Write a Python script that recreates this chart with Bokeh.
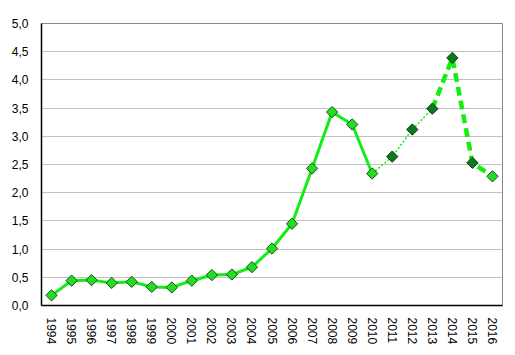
import math
from bokeh.plotting import figure
from bokeh.models import Label, CustomJSTickFormatter, FixedTicker
from bokeh.embed import file_html
from bokeh.resources import INLINE

years = [str(y) for y in range(1994, 2017)]
values = [0.18, 0.44, 0.45, 0.40, 0.42, 0.33, 0.32, 0.44, 0.54, 0.55, 0.68, 1.01,
          1.45, 2.43, 3.43, 3.21, 2.34, 2.64, 3.12, 3.49, 4.39, 2.53, 2.29]
# segment boundaries (index ranges) and styles
solid_idx = (0, 17)      # 1994-2010
dotted_idx = (16, 20)    # 2010-2013
dashed_idx = (19, 23)    # 2013-2016
dark_marker_idx = [17, 18, 19, 20, 21]
y_ticks = [0.0, 0.5, 1.0, 1.5, 2.0, 2.5, 3.0, 3.5, 4.0, 4.5, 5.0]

FONT = "Liberation Sans"
LINE = "#11ee11"

p = figure(width=507, height=347, x_range=years, y_range=(0, 5.0),
           output_backend="svg", toolbar_location=None,
           min_border_left=41, min_border_top=23, min_border_right=5, min_border_bottom=41)
p.background_fill_color = "white"
p.border_fill_color = "white"
p.outline_line_color = "#888888"
p.outline_line_width = 1

p.xgrid.grid_line_color = None
p.ygrid.grid_line_color = "#c0c0c0"
p.ygrid.grid_line_width = 1

p.yaxis.ticker = FixedTicker(ticks=y_ticks)
p.yaxis.formatter = CustomJSTickFormatter(code="return tick.toFixed(1).replace('.', ',');")
for ax in (p.xaxis, p.yaxis):
    ax.axis_line_color = "black"
    ax.axis_line_width = 1.5
    ax.major_tick_line_color = None
    ax.minor_tick_line_color = None
    ax.major_label_text_font = FONT
    ax.major_label_text_font_size = "12px"
    ax.major_label_text_color = "black"
p.xaxis.major_label_orientation = "vertical"
p.xaxis.major_label_standoff = 6
p.yaxis.major_label_standoff = 7
p.x_range.range_padding = 0

s0, s1 = solid_idx
p.line(years[s0:s1], values[s0:s1], line_color=LINE, line_width=3)
d0, d1 = dotted_idx
p.line(years[d0:d1], values[d0:d1], line_color=LINE, line_width=1.5, line_dash="2 2")
e0, e1 = dashed_idx
p.line(years[e0:e1], values[e0:e1], line_color=LINE, line_width=4.5, line_dash="9 5")

light_x = [years[i] for i in range(len(years)) if i not in dark_marker_idx]
light_y = [values[i] for i in range(len(years)) if i not in dark_marker_idx]
dark_x = [years[i] for i in dark_marker_idx]
dark_y = [values[i] for i in dark_marker_idx]

p.scatter(light_x, light_y, marker="square", angle=math.pi / 4, size=8,
          fill_color="#22dd22", line_color="#1d4d1d", line_width=1)
p.scatter(dark_x, dark_y, marker="square", angle=math.pi / 4, size=8,
          fill_color="#0b7a1e", line_color="#0d3d0d", line_width=1)

p.add_layout(Label(x=1.3, y=5.14, text="%", text_font=FONT, text_font_size="12px",
                   text_align="center", text_baseline="middle", text_color="black"))

open("out.html", "w").write(file_html(p, INLINE))
